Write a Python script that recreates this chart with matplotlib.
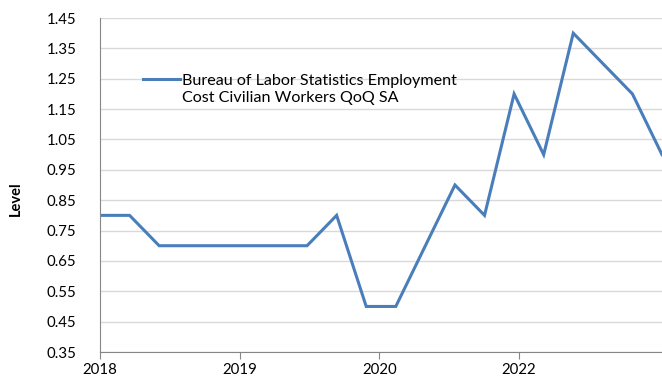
import numpy as np
import matplotlib.pyplot as plt

plt.rcParams['font.family'] = ['Lato', 'DejaVu Sans']

# quarterly QoQ change in civilian employment cost
eci_qoq = [0.8, 0.8, 0.7, 0.7, 0.7, 0.7, 0.7, 0.7, 0.8, 0.5,
           0.5, 0.7, 0.9, 0.8, 1.2, 1.0, 1.4, 1.3, 1.2, 1.0]
year_ticks = [0.0, 4.72, 9.44, 14.16]
year_labels = ['2018', '2019', '2020', '2022']
y_ticks = [0.35, 0.45, 0.55, 0.65, 0.75, 0.85, 0.95, 1.05, 1.15, 1.25, 1.35, 1.45]
series_name = 'Bureau of Labor Statistics Employment\nCost Civilian Workers QoQ SA'

line_color = '#4a7ebb'
x = np.arange(len(eci_qoq))

fig = plt.figure(figsize=(6.62, 3.8), dpi=100)
ax = fig.add_axes([100 / 662, 28 / 380, 562 / 662, 334 / 380])

ax.plot(x, eci_qoq, color=line_color, lw=2.2, solid_joinstyle='miter')

ax.set_xlim(0, len(eci_qoq) - 1)
ax.set_ylim(0.35, 1.45)
ax.set_yticks(y_ticks)
ax.set_yticklabels([f'{v:.2f}' for v in y_ticks])
ax.set_xticks(year_ticks)
ax.set_xticklabels(year_labels)

ax.grid(axis='y', color='#d9d9d9', lw=1)
ax.set_axisbelow(True)
for side in ['top', 'right']:
    ax.spines[side].set_visible(False)
for side in ['left', 'bottom']:
    ax.spines[side].set_color('#868686')
ax.tick_params(axis='y', length=0, pad=17, labelsize=10.8, colors='#000000')
ax.tick_params(axis='x', length=5, color='#868686', pad=3, labelsize=10.8)

ax.set_ylabel('Level', fontweight='bold', fontsize=10.5)
ax.yaxis.set_label_coords(-0.137, 0.46)

# legend: sample line next to the first row of the two-line name
ax.plot([0.0765, 0.142], [0.817, 0.817], transform=ax.transAxes,
        color=line_color, lw=2.2, clip_on=False)
ax.text(0.146, 0.787, series_name, transform=ax.transAxes, ha='left',
        va='center', fontsize=11.6, linespacing=1.25)

fig.savefig('out.png', dpi=100)
